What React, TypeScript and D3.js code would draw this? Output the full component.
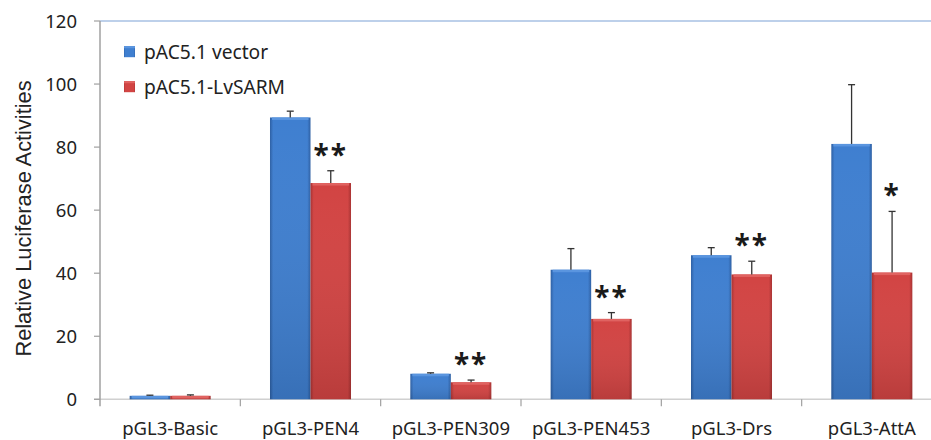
import React from "react";
import * as d3 from "d3";

const categories = ["pGL3-Basic", "pGL3-PEN4", "pGL3-PEN309", "pGL3-PEN453", "pGL3-Drs", "pGL3-AttA"];
const seriesNames = ["pAC5.1 vector", "pAC5.1-LvSARM"];
const vectorValues = [1.1, 89.4, 8.1, 41.1, 45.7, 81.0];
const vectorErrors = [0.2, 2.0, 0.3, 6.7, 2.4, 18.8];
const sarmValues = [1.1, 68.6, 5.4, 25.5, 39.6, 40.2];
const sarmErrors = [0.3, 3.9, 0.7, 2.0, 4.2, 19.4];
const significance = ["", "**", "**", "**", "**", "*"];
const yTicks = [0, 20, 40, 60, 80, 100, 120];

const W = 931;
const H = 440;
const left = 100;
const right = 942;
const top = 21;
const bottom = 399.3;
const font = "'Noto Sans', sans-serif";
const labelFont = "'Liberation Sans', Arial, sans-serif";

const colors = [
  { dark: "#2d5fa3", mid: "#3f7fd0", light: "#5a95df" },
  { dark: "#a83232", mid: "#d24443", light: "#e06361" },
];

export default function App() {
  const y = d3.scaleLinear().domain([0, 120]).range([bottom, top]);
  const x0 = d3
    .scaleBand<string>()
    .domain(categories)
    .range([left, right])
    .paddingInner(0.4227)
    .paddingOuter(0.21135);
  const x1 = d3.scaleBand<string>().domain(seriesNames).range([0, x0.bandwidth()]).padding(0);
  const values = [vectorValues, sarmValues];
  const errors = [vectorErrors, sarmErrors];
  const step = x0.step();

  return (
    <svg width={W} height={H} style={{ position: "absolute", left: 0, top: 0, background: "#fff" }}>
      <defs>
        {colors.map((c, i) => (
          <linearGradient key={i} id={`g${i}`} x1="0" x2="1" y1="0" y2="0">
            <stop offset="0" stopColor={c.dark} />
            <stop offset="0.08" stopColor={c.mid} />
            <stop offset="0.5" stopColor={c.mid} />
            <stop offset="0.92" stopColor={c.mid} />
            <stop offset="1" stopColor={c.dark} />
          </linearGradient>
        ))}
        {colors.map((c, i) => (
          <linearGradient key={"v" + i} id={`v${i}`} x1="0" x2="0" y1="0" y2="1">
            <stop offset="0" stopColor="#fff" stopOpacity="0" />
            <stop offset="1" stopColor="#000" stopOpacity="0.12" />
          </linearGradient>
        ))}
      </defs>
      {/* top border */}
      <line x1={left} x2={W} y1={top} y2={top} stroke="#a7c0e3" strokeWidth={1.5} />
      {/* baseline */}
      <line x1={left - 6} x2={W} y1={bottom} y2={bottom} stroke="#d0d0d0" strokeWidth={1.5} />
      {/* y axis */}
      <line x1={left} x2={left} y1={top} y2={bottom + 7} stroke="#a0a0a0" strokeWidth={1.5} />
      {yTicks.map((t) => (
        <g key={t}>
          <line x1={left - 6} x2={left} y1={y(t)} y2={y(t)} stroke="#a0a0a0" strokeWidth={1.2} />
          <text x={77} y={y(t)} dy="0.36em" textAnchor="end" fontFamily={font} fontSize={18.5} fill="#222">
            {t}
          </text>
        </g>
      ))}
      {/* category ticks */}
      {categories.map((c, i) => (
        <line key={c} x1={left + step * (i + 1)} x2={left + step * (i + 1)} y1={bottom} y2={bottom + 7} stroke="#a0a0a0" strokeWidth={1.2} />
      ))}
      {/* y label */}
      <text
        transform={`translate(23,218.5) rotate(-90)`}
        textAnchor="middle"
        dy="0.35em"
        fontFamily={labelFont}
        fontSize={21.8}
        fill="#222"
      >
        Relative Luciferase Activities
      </text>
      {/* bars */}
      {categories.map((c, ci) => (
        <g key={c}>
          {seriesNames.map((s, si) => {
            const bx = (x0(c) as number) + (x1(s) as number);
            const bw = x1.bandwidth();
            const v = values[si][ci];
            const e = errors[si][ci];
            const by = y(v);
            const cx = bx + bw / 2;
            return (
              <g key={s}>
                <rect x={bx} y={by} width={bw} height={bottom - by} fill={`url(#g${si})`} />
                <rect x={bx} y={by} width={bw} height={bottom - by} fill={`url(#v${si})`} />
                <rect x={bx + 2} y={by} width={bw - 4} height={Math.min(2.5, bottom - by)} fill={colors[si].light} />
                <line x1={cx} x2={cx} y1={by} y2={y(v + e)} stroke="#333" strokeWidth={1.3} />
                <line x1={cx - 3.5} x2={cx + 3.5} y1={y(v + e)} y2={y(v + e)} stroke="#333" strokeWidth={1.3} />
              </g>
            );
          })}
          {significance[ci] && (
            <text
              x={(x0(c) as number) + (x1(seriesNames[1]) as number) + x1.bandwidth() / 2}
              y={y(sarmValues[ci] + sarmErrors[ci]) - 6}
              textAnchor="middle"
              fontFamily={font}
              fontWeight="bold"
              fontSize={28}
              fill="#1a1a1a"
              letterSpacing={2}
            >
              {significance[ci]}
            </text>
          )}
          <text
            x={(x0(c) as number) + x0.bandwidth() / 2}
            y={435}
            textAnchor="middle"
            fontFamily={font}
            fontSize={18.5}
            fill="#222"
          >
            {c}
          </text>
        </g>
      ))}
      {/* legend */}
      {seriesNames.map((s, i) => (
        <g key={s} transform={`translate(124, ${51.7 + i * 35})`}>
          <rect x={0} y={-5.5} width={11} height={11} fill={`url(#g${i})`} />
          <rect x={0} y={-5.5} width={11} height={2} fill={colors[i].light} />
          <text x={20} y={0} dy="0.36em" fontFamily={font} fontSize={19.2} fill="#222">
            {s}
          </text>
        </g>
      ))}
    </svg>
  );
}
